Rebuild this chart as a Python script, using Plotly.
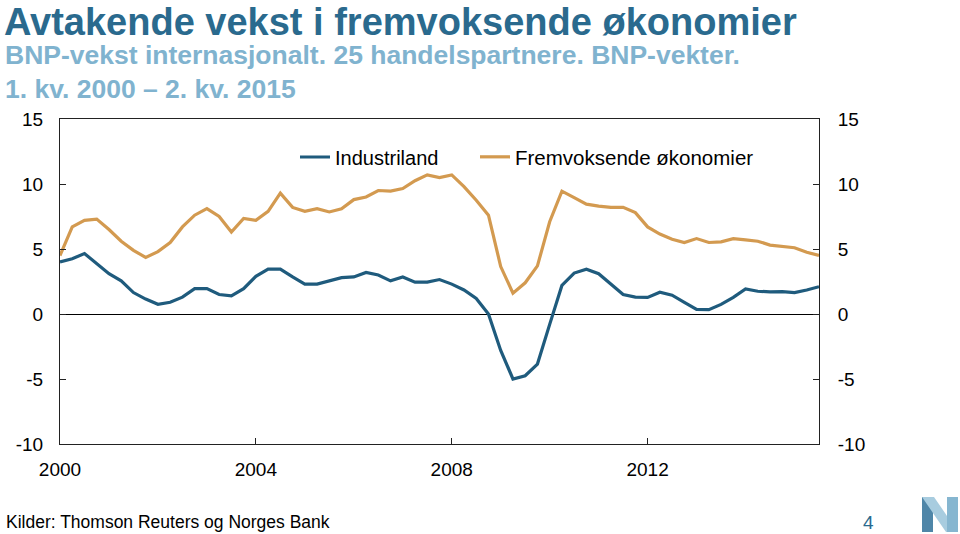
import plotly.graph_objects as go

# Quarterly data, 1. kv. 2000 onwards (63 quarters as drawn)
years = list(range(2000, 2016))
quarters = [f"{y}K{q}" for y in years for q in (1, 2, 3, 4)][:63]

industriland = [
    4.0, 4.25, 4.65, 3.9, 3.1, 2.55, 1.65, 1.15, 0.75, 0.9,
    1.3, 1.95, 1.95, 1.5, 1.4, 1.95, 2.9, 3.45, 3.45, 2.85,
    2.3, 2.3, 2.55, 2.8, 2.85, 3.2, 3.0, 2.55, 2.85, 2.45,
    2.45, 2.65, 2.3, 1.85, 1.2, 0.0, -2.8, -5.0, -4.75, -3.85,
    -0.8, 2.2, 3.15, 3.45, 3.1, 2.3, 1.5, 1.3, 1.28, 1.67,
    1.45, 0.9, 0.35, 0.33, 0.74, 1.28, 1.92, 1.75, 1.7, 1.72,
    1.64, 1.85, 2.1,
]
fremvoksende = [
    4.5, 6.7, 7.2, 7.3, 6.5, 5.6, 4.9, 4.35, 4.8, 5.5,
    6.7, 7.6, 8.1, 7.5, 6.3, 7.35, 7.2, 7.9, 9.3, 8.2,
    7.9, 8.1, 7.85, 8.1, 8.8, 9.0, 9.5, 9.45, 9.65, 10.25,
    10.7, 10.5, 10.7, 9.8, 8.75, 7.6, 3.65, 1.6, 2.4, 3.7,
    7.1, 9.45, 8.95, 8.45, 8.3, 8.2, 8.2, 7.8, 6.7, 6.15,
    5.75, 5.5, 5.8, 5.5, 5.55, 5.8, 5.7, 5.6, 5.3, 5.2,
    5.1, 4.75, 4.5,
]

x_tick_labels = ["2000", "2004", "2008", "2012"]
x_tick_quarters = ["2000K1", "2004K1", "2008K1", "2012K1"]
y_tick_values = [-10, -5, 0, 5, 10, 15]
y_tick_labels = ["-10", "-5", "0", "5", "10", "15"]

BLUE = "#1F5B7D"
ORANGE = "#D39A50"
FONT = "Liberation Sans, Arial, sans-serif"

xpos = list(range(len(quarters)))
tickpos = [quarters.index(q) for q in x_tick_quarters]

fig = go.Figure()
fig.add_trace(go.Scatter(
    x=xpos, y=industriland, mode="lines", name="Industriland",
    line=dict(color=BLUE, width=3.2), legend="legend",
))
fig.add_trace(go.Scatter(
    x=xpos, y=fremvoksende, mode="lines", name="Fremvoksende økonomier",
    line=dict(color=ORANGE, width=3.2), legend="legend2",
))
# helper trace so the right-hand axis is drawn
fig.add_trace(go.Scatter(x=[None], y=[None], yaxis="y2", showlegend=False,
                         hoverinfo="skip"))

L, R, T, B = 60, 141, 119, 90
W, H = 960, 534
pw, ph = W - L - R, H - T - B


def px(x):
    return (x - L) / pw


def py(y):
    return (H - B - y) / ph


axis_common = dict(
    showgrid=False, ticks="inside", ticklen=6, tickcolor="#222",
    showline=True, linecolor="#222", linewidth=1,
    tickfont=dict(family=FONT, size=19, color="#000"),
)

fig.update_layout(
    width=W, height=H,
    margin=dict(l=L, r=R, t=T, b=B, pad=0),
    paper_bgcolor="white", plot_bgcolor="white",
    font=dict(family=FONT, color="#000"),
    xaxis=dict(range=[0, len(quarters) - 1], tickvals=tickpos,
               ticktext=x_tick_labels, mirror=True, zeroline=False,
               ticklabelstandoff=8, **axis_common),
    yaxis=dict(range=[-10, 15], tickvals=y_tick_values, ticktext=y_tick_labels,
               zeroline=True, zerolinecolor="#000", zerolinewidth=1,
               ticklabelstandoff=12, **axis_common),
    yaxis2=dict(range=[-10, 15], tickvals=y_tick_values, ticktext=y_tick_labels,
                overlaying="y", side="right", zeroline=False,
                ticklabelstandoff=14, **axis_common),
    legend=dict(orientation="h", x=px(295), xanchor="left", y=py(157),
                yanchor="middle", bgcolor="rgba(0,0,0,0)",
                font=dict(family=FONT, size=20, color="#000")),
    legend2=dict(orientation="h", x=px(475), xanchor="left", y=py(157),
                 yanchor="middle", bgcolor="rgba(0,0,0,0)",
                 font=dict(family=FONT, size=20.5, color="#000")),
    showlegend=True,
)

ann = [
    dict(text="<b>Avtakende vekst i fremvoksende økonomier</b>", x=px(3), y=py(0),
         yanchor="top", borderpad=0,
         font=dict(family=FONT, size=38, color="#2A6A8E")),
    dict(text="<b>BNP-vekst internasjonalt. 25 handelspartnere. BNP-vekter.</b>",
         x=px(3), y=py(55), yanchor="middle",
         font=dict(family=FONT, size=26.5, color="#80B3CF")),
    dict(text="<b>1. kv. 2000 – 2. kv. 2015</b>", x=px(3), y=py(89),
         yanchor="middle", font=dict(family=FONT, size=26.5, color="#80B3CF")),
    dict(text="Kilder: Thomson Reuters og Norges Bank", x=px(4), y=py(522),
         yanchor="middle", font=dict(family=FONT, size=17.5, color="#000")),
    dict(text="4", x=px(861), y=py(522), yanchor="middle",
         font=dict(family=FONT, size=19, color="#2A6A8E")),
]
for a in ann:
    fig.add_annotation(xref="paper", yref="paper", xanchor="left",
                       showarrow=False, **a)

# Norges Bank "N" logo
logo = [
    ([(922, 497), (933, 497), (933, 532), (922, 532)], "#4F86A8"),
    ([(922, 497), (934, 497), (958, 532), (946, 532)], "#A8CCDF"),
    ([(947, 497), (958, 497), (958, 532), (947, 532)], "#86B6D0"),
]
for pts, col in logo:
    path = "M " + " L ".join(f"{px(a):.5f},{py(b):.5f}" for a, b in pts) + " Z"
    fig.add_shape(type="path", path=path, xref="paper", yref="paper",
                  fillcolor=col, line=dict(width=0))

fig.write_html("out.html",
               config={"displayModeBar": False},
               post_script="document.body.style.margin='0';"
                           "document.body.style.overflow='hidden';")
